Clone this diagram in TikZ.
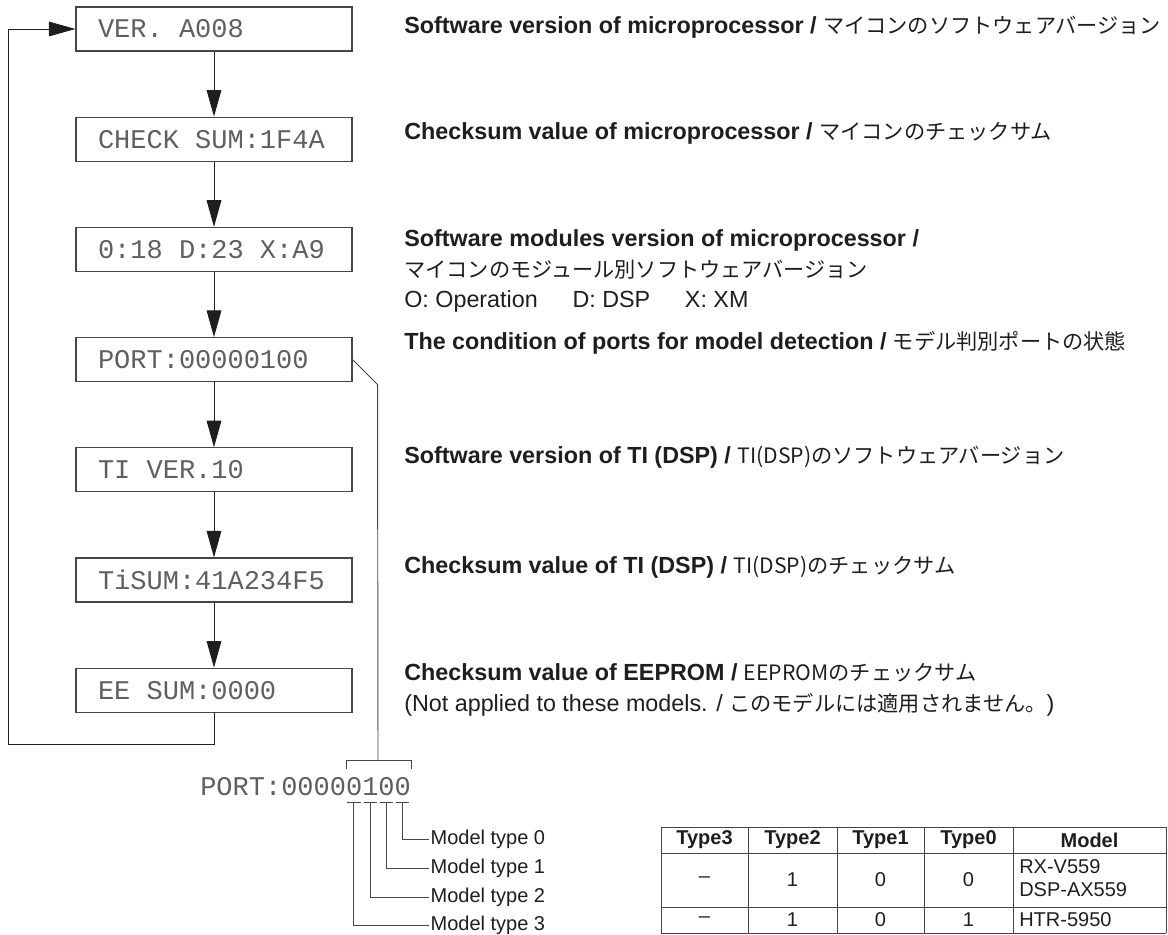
\documentclass[tikz,border=0pt]{standalone}
\usepackage{fontspec}
\setmainfont{Liberation Sans}
\newfontfamily\jpfont{Noto Sans CJK JP}
\newfontfamily\lcdfont{Liberation Mono}
\usetikzlibrary{arrows.meta}
\definecolor{ink}{RGB}{30,30,30}
\definecolor{lcdgray}{RGB}{95,95,95}
\definecolor{rule}{RGB}{70,70,70}
\newcommand{\ja}[1]{{\jpfont\fontsize{15.9}{23}\selectfont #1}}
% mono spacing, also after align=left
\newcommand{\lcdspace}{\spaceskip=0.6em\relax\xspaceskip=0.6em\relax}

\tikzset{
  lcd/.style={draw=rule, line width=0.8pt, minimum height=33pt, text width=174pt,
    inner xsep=16.5pt, inner ysep=0pt, align=left, text=lcdgray,
    font=\lcdfont\fontsize{20.25}{24}\selectfont},
  readout/.style={anchor=west, inner sep=0pt, text=lcdgray,
    font=\lcdfont\fontsize{20.25}{24}\selectfont},
  desc/.style={anchor=west, align=left, inner sep=0pt, text=ink,
    font=\fontsize{17.5}{23}\selectfont},
  flow/.style={draw=ink, line width=0.75pt, -{Triangle[length=20pt,width=11pt]}},
  link/.style={draw=rule, line width=0.7pt},
  grid/.style={draw=rule, line width=0.7pt},
  cell/.style={inner sep=0pt, text=ink, font=\fontsize{15}{17.5}\selectfont},
  tag/.style={anchor=west, inner sep=1pt, text=ink, font=\fontsize{15}{18}\selectfont}
}

\begin{document}
\begin{tikzpicture}[x=0.75pt, y=-0.75pt]
\useasboundingbox (0,0) rectangle (1168,935);

% display steps
\foreach \n/\t [count=\i from 0] in {ver/VER. A008, sum/CHECK SUM:1F4A,
    mod/0:18 D:23 X:A9, port/PORT:00000100, tiver/TI VER.10,
    tisum/TiSUM:41A234F5, eesum/EE SUM:0000}
  \node[lcd] (\n) at (214, 29+110.2*\i) {\lcdspace\t};

\foreach \a/\b in {ver/sum, sum/mod, mod/port, port/tiver, tiver/tisum, tisum/eesum}
  \draw[flow] (\a) -- (\b);

% loop back to the top
\coordinate (back) at (8,744);
\draw[flow] (eesum.south) |- (back) |- (ver.west);

% descriptions
\node[desc] (d1) at (404,27) {\textbf{Software version of microprocessor /} \ja{マイコンのソフトウェアバージョン}};
\node[desc] (d2) at (404,133) {\textbf{Checksum value of microprocessor /} \ja{マイコンのチェックサム}};
\node[desc] (d3) at (404,271) {\textbf{Software modules version of microprocessor /}\\
  \ja{マイコンのモジュール別ソフトウェアバージョン}\\
  O: Operation\hspace{26pt}D: DSP\hspace{26pt}X: XM};
\node[desc] (d4) at (404,343) {\textbf{The condition of ports for model detection /} \ja{モデル判別ポートの状態}};
\node[desc] (d5) at (404,457) {\textbf{Software version of TI (DSP) /} \ja{TI(DSP)のソフトウェアバージョン}};
\node[desc] (d6) at (404,567) {\textbf{Checksum value of TI (DSP) /} \ja{TI(DSP)のチェックサム}};
\node[desc] (d7) at (404,690) {\textbf{Checksum value of EEPROM /} \ja{EEPROMのチェックサム}\\
  (Not applied to these models. / \ja{このモデルには適用されません。})};

% port bits
\node[readout] (bits) at (200,787) {PORT:00000100};
\coordinate (brk) at (378,760);
\draw[link] (port.east) -- ++(25,25) -- (brk);
\draw[link] (346,769) |- (411,760) -- (411,769);
\foreach \k/\y [count=\j from 0] in {12/839, 11/868, 10/897, 9/925}{
  \pgfmathsetmacro{\xl}{200+16.2*\k}
  \pgfmathsetmacro{\xc}{\xl+8.1}
  \draw[link] (\xl+1.5,802) -- (\xl+14.7,802);
  \node[tag] (type\j) at (429,\y) {Model type \j};
  \draw[link] (\xc,802) |- (type\j.west);
}

% model table
\foreach \x in {661,748,837,924,1013,1166}
  \draw[grid] (\x,827) -- (\x,933);
\foreach \y in {827,853,907,933}
  \draw[grid] (661,\y) -- (1166,\y);
\foreach \t/\x [count=\i] in {Type3/704.5, Type2/792.5, Type1/880.5, Type0/968.5, Model/1089.5}
  \node[cell] (h\i) at (\x,840) {\textbf{\t}};
\foreach \t/\x [count=\i] in {\textendash/704.5, 1/792.5, 0/880.5, 0/968.5}{
  \node[cell] (a\i) at (\x,880) {\t};
}
\node[cell, anchor=west, align=left] (a5) at (1019,878) {RX-V559\\DSP-AX559};
\foreach \t/\x [count=\i] in {\textendash/704.5, 1/792.5, 0/880.5, 1/968.5}{
  \node[cell] (b\i) at (\x,920) {\t};
}
\node[cell, anchor=west] (b5) at (1019,920) {HTR-5950};

\end{tikzpicture}
\end{document}
